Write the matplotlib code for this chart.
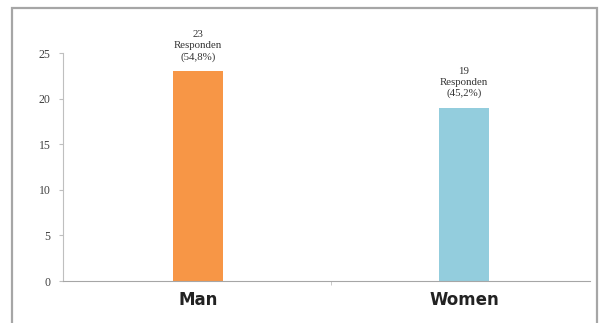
import matplotlib.pyplot as plt
from matplotlib.patches import Rectangle

# Data
categories = ['Man', 'Women']
counts = [23, 19]
percent_labels = ['(54,8%)', '(45,2%)']
bar_colors = ['#F79646', '#93CDDD']

fig = plt.figure(figsize=(6.14, 3.23), dpi=100)
fig.patch.set_facecolor('white')

# Outer chart border (bottom edge falls outside the picture)
border = Rectangle((12 / 614, -0.05), 585 / 614, 1 - 8 / 323 + 0.05,
                   transform=fig.transFigure, fill=False,
                   edgecolor='#A6A6A6', linewidth=1.6)
fig.patches.append(border)

ax = fig.add_axes([63 / 614, 1 - 281 / 323, (590 - 63) / 614, (281 - 53) / 323])

x = range(len(categories))
ax.bar(x, counts, width=0.19, color=bar_colors, zorder=2)

ax.set_xlim(-0.508, 1.474)
ax.set_ylim(0, 25)
ax.set_yticks([0, 5, 10, 15, 20, 25])

# Axis styling, Excel-like
for side in ['top', 'right']:
    ax.spines[side].set_visible(False)
ax.spines['left'].set_color('#BFBFBF')
ax.spines['bottom'].set_color('#A6A6A6')
ax.tick_params(axis='y', length=3, color='#BFBFBF', labelsize=8.5,
               labelcolor='#404040', pad=6)
for lbl in ax.get_yticklabels():
    lbl.set_fontfamily('Liberation Serif')

ax.set_xticks([0.5], minor=True)
ax.tick_params(axis='x', which='minor', length=3, color='#BFBFBF')
ax.set_xticks(list(x))
ax.set_xticklabels(categories, fontsize=12, fontweight='bold', color='#222222')
ax.tick_params(axis='x', which='major', length=0, pad=7)

# Annotations above bars
for i, (c, p) in enumerate(zip(counts, percent_labels)):
    ax.annotate(f'{c}\nResponden\n{p}', (i, c), xytext=(0, 7),
                textcoords='offset points', ha='center', va='bottom',
                fontsize=7.8, family='Liberation Serif', color='#333333',
                linespacing=1.25)

fig.savefig('out.png', dpi=100)
